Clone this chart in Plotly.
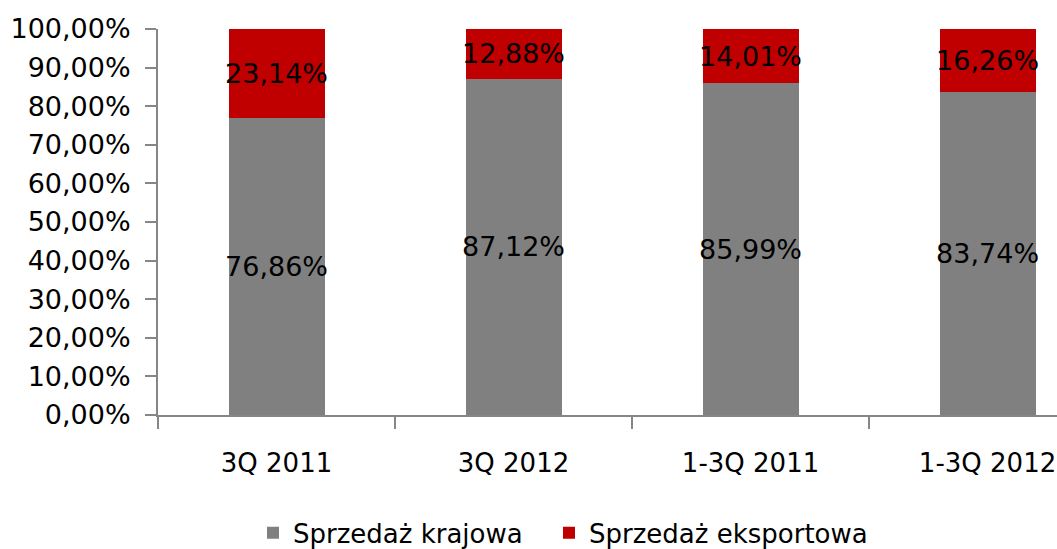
import plotly.graph_objects as go

categories = ["3Q 2011", "3Q 2012", "1-3Q 2011", "1-3Q 2012"]
domestic = [0.7686, 0.8712, 0.8599, 0.8374]
export = [0.2314, 0.1288, 0.1401, 0.1626]
names = ["Sprzedaż krajowa", "Sprzedaż eksportowa"]
colors = ["#808080", "#C00000"]
legends = ["legend", "legend2"]

FONT = "DejaVu Sans"
fig = go.Figure()
for vals, name, col, lg in zip([domestic, export], names, colors, legends):
    fig.add_trace(go.Bar(
        x=categories, y=vals, name=name, marker=dict(color=col, line=dict(width=0)),
        width=0.405, texttemplate="%{y:.2%}", textposition="inside",
        insidetextanchor="middle", textangle=0, legend=lg,
        textfont=dict(family=FONT, size=27, color="black"),
    ))

leg_common = dict(orientation="h", xref="container", xanchor="left", y=-0.305,
                  yanchor="middle", font=dict(size=26), itemwidth=30,
                  bgcolor="rgba(0,0,0,0)")
fig.update_layout(
    barmode="stack", width=1057, height=549,
    margin=dict(l=158, r=0, t=29, b=134, autoexpand=False),
    paper_bgcolor="white", plot_bgcolor="white",
    separators=", ",
    font=dict(family=FONT, size=26, color="black"),
    uniformtext=dict(minsize=27, mode="show"),
    legend=dict(x=253 / 1057, **leg_common),
    legend2=dict(x=549 / 1057, **leg_common),
    showlegend=True,
)
fig.update_xaxes(range=[-0.5, 3.293], tickson="boundaries", ticks="outside", ticklen=12,
                 tickcolor="#868686", tickwidth=2, showline=True, linecolor="#868686",
                 linewidth=2, showgrid=False, tickfont=dict(size=26),
                 ticklabelstandoff=24, automargin=False)
fig.update_yaxes(range=[0, 1], dtick=0.1, tickformat=".2%", ticks="outside", ticklen=11,
                 tickcolor="#868686", tickwidth=2, showline=True, linecolor="#868686",
                 linewidth=2, showgrid=False, zeroline=False, tickfont=dict(size=27),
                 ticklabelstandoff=9, automargin=False)
fig.write_html("out.html", config={"displayModeBar": False},
               post_script="document.body.style.margin='0';document.body.style.overflow='hidden';")
